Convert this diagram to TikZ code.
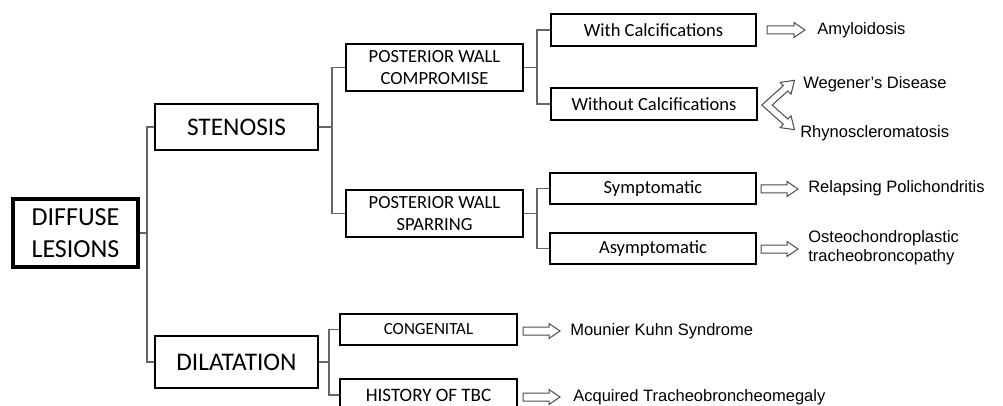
\documentclass[tikz,border=0pt]{standalone}
\usepackage{fontspec}
\setmainfont{Carlito}
\newfontfamily\arialf{Liberation Sans}
\newcommand\hollowarr[3]{%
  \draw[harrow] ({#1},{#3-4}) -- ({#2-11},{#3-4}) -- ({#2-11},{#3-7.5}) -- ({#2},{#3})
    -- ({#2-11},{#3+7.5}) -- ({#2-11},{#3+4}) -- ({#1},{#3+4}) -- cycle;}
\begin{document}
\begin{tikzpicture}[x=0.75pt,y=-0.75pt,
  box/.style={draw=black, line width=1.5pt, inner sep=0pt, align=center},
  bigbox/.style={box, line width=2pt, font=\fontsize{19pt}{22pt}\selectfont},
  midbox/.style={box, font=\fontsize{13.9pt}{16.3pt}\selectfont},
  conn/.style={draw=black!60, line width=1.1pt},
  harrow/.style={draw=black!70, line width=0.75pt, fill=white, line join=miter},
  lab/.style={anchor=base west, inner sep=0pt, font=\arialf\fontsize{12.4pt}{14.3pt}\selectfont, align=left}]
\useasboundingbox (0,0) rectangle (1003,406);

% boxes
\node[box, line width=2.6pt, minimum width=125*0.75pt, minimum height=68*0.75pt,
      font=\fontsize{19.5pt}{24pt}\selectfont] (diff) at (75.5,233) {DIFFUSE\\LESIONS};
\node[bigbox, minimum width=163*0.75pt, minimum height=46*0.75pt] (sten) at (236.5,127) {STENOSIS};
\node[bigbox, minimum width=163*0.75pt, minimum height=52*0.75pt] (dila) at (236.5,362) {DILATATION};
\node[midbox, minimum width=177*0.75pt, minimum height=47*0.75pt] (pwc) at (434.5,67.5) {POSTERIOR WALL\\COMPROMISE};
\node[midbox, minimum width=177*0.75pt, minimum height=47*0.75pt] (pws) at (434.5,213.5) {POSTERIOR WALL\\SPARRING};
\node[midbox, minimum width=205*0.75pt, minimum height=32*0.75pt] (withc) at (653.5,30) {With Calcifications};
\node[midbox, minimum width=206*0.75pt, minimum height=32*0.75pt] (woc) at (654,104) {Without Calcifications};
\node[midbox, minimum width=206*0.75pt, minimum height=31*0.75pt] (symp) at (653,188.5) {Symptomatic};
\node[midbox, minimum width=206*0.75pt, minimum height=31*0.75pt] (asym) at (653,248.5) {Asymptomatic};
\node[box, minimum width=177*0.75pt, minimum height=31*0.75pt, font=\fontsize{12.75pt}{15pt}\selectfont] (cong) at (428.5,329.5) {CONGENITAL};
\node[box, minimum width=177*0.75pt, minimum height=32*0.75pt, font=\fontsize{14.25pt}{16pt}\selectfont] (hist) at (428.5,395) {HISTORY OF TBC};

% junction columns
\coordinate (j1) at (147,0);
\coordinate (j2) at (332,0);
\coordinate (j3) at (537,0);
\coordinate (j4) at (329,0);

% connectors
\draw[conn] (diff.east) -- (diff.east -| j1);
\draw[conn] (sten.west) -- (sten.west -| j1) -- (dila.west -| j1) -- (dila.west);
\draw[conn] (sten.east) -- (sten.east -| j2);
\draw[conn] (pwc.west) -- (pwc.west -| j2) -- (pws.west -| j2) -- (pws.west);
\draw[conn] (pwc.east) -- (pwc.east -| j3);
\draw[conn] (withc.west) -- (withc.west -| j3) -- (woc.west -| j3) -- (woc.west);
\draw[conn] (pws.east) -- (pws.east -| j3);
\draw[conn] (symp.west) -- (symp.west -| j3) -- (asym.west -| j3) -- (asym.west);
\draw[conn] (dila.east) -- (dila.east -| j4);
\draw[conn] (cong.west) -- (cong.west -| j4) -- (hist.west -| j4) -- (hist.west);

% hollow arrows
\hollowarr{767}{805}{30}
\hollowarr{761}{798}{189}
\hollowarr{761}{798}{249}
\hollowarr{523}{560}{331}
\hollowarr{523}{560}{397}
\draw[harrow] (761.8,105) -- (783.3,85.7) -- (780.2,82.4) -- (794.5,80.3) -- (791.0,94.2)
  -- (787.9,90.9) -- (772.2,105) -- (787.9,119.1) -- (791.0,115.8) -- (794.5,129.7)
  -- (780.2,127.6) -- (783.3,124.3) -- cycle;

% labels
\node[lab] (amy) at (817,35) {Amyloidosis};
\node[lab] (weg) at (803,89) {Wegener’s Disease};
\node[lab] (rhy) at (800,138) {Rhynoscleromatosis};
\node[lab] (rel) at (808,193) {Relapsing Polichondritis};
\node[lab, anchor=west] (ost) at (808,248) {Osteochondroplastic\\tracheobroncopathy};
\node[lab] (mou) at (570,335) {Mounier Kuhn Syndrome};
\node[lab] (acq) at (573,401) {Acquired Tracheobroncheomegaly};
\end{tikzpicture}
\end{document}
